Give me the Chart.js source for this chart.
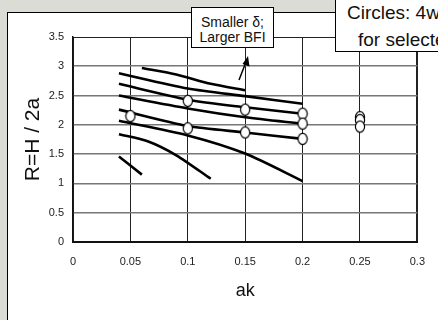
<!DOCTYPE html>
<html>
<head>
<meta charset="utf-8">
<script src="https://cdn.jsdelivr.net/npm/chart.js@4"></script>
<style>
  body { margin: 0; width: 438px; height: 320px; overflow: hidden; background: #dcdcd6; position: relative; font-family: "Liberation Sans", Arial, sans-serif; }
  #panel { position: absolute; left: 7px; top: 12px; width: 440px; height: 320px; background: #fff; border: 1px solid #000; }
  #chart { position: absolute; left: 0; top: 0; }
  .note { position: absolute; background: #fff; border: 1px solid #000; color: #111; white-space: nowrap; overflow: hidden; }
  #noteDelta { left: 191px; top: 7px; width: 83px; height: 41px; font-size: 14px; line-height: 15px; text-align: center; padding-top: 7px; box-sizing: border-box; }
  #noteCircles { left: 335px; top: -2px; width: 130px; height: 54px; font-size: 19px; line-height: 27px; box-sizing: border-box; }
  #arrow { position: absolute; left: 0; top: 0; }
</style>
</head>
<body>
<div id="panel"></div>
<canvas id="chart" width="438" height="320"></canvas>
<div class="note" id="noteDelta">Smaller &delta;;<br>Larger BFI</div>
<div class="note" id="noteCircles"><div style="padding-left:11px">Circles: 4wave</div><div style="padding-left:22px">for selected</div></div>
<svg id="arrow" width="438" height="320">
  <line x1="239" y1="80" x2="246" y2="62" stroke="#000" stroke-width="1.5"/>
  <polygon points="248,56 242.5,64 249.5,66.5" fill="#000"/>
</svg>
<script>
// axis ticks
const xTicks = [0, 0.05, 0.1, 0.15, 0.2, 0.25, 0.3];
const yTicks = [0, 0.5, 1, 1.5, 2, 2.5, 3, 3.5];

// curves, top to bottom
const curveAx = [0.06, 0.09, 0.12, 0.15];
const curveAy = [2.97, 2.86, 2.70, 2.59];
const curveBx = [0.04, 0.1, 0.15, 0.2];
const curveBy = [2.88, 2.62, 2.49, 2.36];
const curveCx = [0.04, 0.1, 0.15, 0.2];
const curveCy = [2.70, 2.43, 2.30, 2.19];
const curveDx = [0.04, 0.1, 0.15, 0.2];
const curveDy = [2.50, 2.28, 2.13, 2.02];
const curveEx = [0.04, 0.1, 0.15, 0.2];
const curveEy = [2.26, 1.98, 1.87, 1.76];
const curveFx = [0.04, 0.1, 0.15, 0.2];
const curveFy = [2.07, 1.82, 1.51, 1.04];
const curveGx = [0.04, 0.065, 0.09, 0.12];
const curveGy = [1.84, 1.72, 1.48, 1.08];
const curveHx = [0.04, 0.06];
const curveHy = [1.46, 1.15];

// circles (4-wave results)
const circleX = [0.05, 0.1, 0.1, 0.15, 0.15, 0.2, 0.2, 0.2, 0.25, 0.25, 0.25];
const circleY = [2.15, 2.41, 1.94, 2.26, 1.87, 2.19, 2.02, 1.76, 2.13, 2.08, 1.97];

const curves = [
    [curveAx, curveAy], [curveBx, curveBy], [curveCx, curveCy], [curveDx, curveDy],
    [curveEx, curveEy], [curveFx, curveFy], [curveGx, curveGy], [curveHx, curveHy]
];

function pts(xs, ys) {
    return xs.map((x, i) => ({ x: x, y: ys[i] }));
}

// small ellipse used as point marker
const marker = document.createElement("canvas");
marker.width = 12;
marker.height = 14;
const mctx = marker.getContext("2d");
mctx.beginPath();
mctx.ellipse(6, 7, 4.6, 5.6, 0, 0, Math.PI * 2);
mctx.fillStyle = "#fff";
mctx.fill();
mctx.lineWidth = 1.2;
mctx.strokeStyle = "#000";
mctx.stroke();

const datasets = [{
    label: "4wave",
    data: pts(circleX, circleY),
    showLine: false,
    pointStyle: marker,
    pointRadius: 6,
    order: 0
}];
curves.forEach(c => {
    datasets.push({
        data: pts(c[0], c[1]),
        showLine: true,
        borderColor: "#000",
        borderWidth: 2.6,
        pointRadius: 0,
        tension: 0.25,
        order: 1
    });
});

const tickFont = { family: "Liberation Sans", size: 11 };

new Chart(document.getElementById("chart"), {
    type: "scatter",
    data: { datasets: datasets },
    options: {
        responsive: false,
        animation: false,
        events: [],
        layout: { padding: { top: 37, right: 11, left: 0, bottom: 0 } },
        plugins: { legend: { display: false }, tooltip: { enabled: false } },
        scales: {
            x: {
                min: 0,
                max: 0.3,
                afterFit: s => { s.height = 78; },
                afterBuildTicks: s => { s.ticks = xTicks.map(v => ({ value: v })); },
                ticks: { font: tickFont, color: "#222", padding: 13, maxRotation: 0, callback: v => String(v) },
                grid: {
                    drawTicks: false,
                    color: "#222",
                    lineWidth: ctx => (ctx.index === xTicks.length - 1 ? 2 : 1)
                },
                border: { color: "#111", width: 2 },
                title: { display: true, text: "ak", font: { family: "Liberation Sans", size: 18 }, color: "#111", padding: { top: 0, bottom: 18 } }
            },
            y: {
                min: 0,
                max: 3.5,
                afterFit: s => { s.width = 73; },
                afterBuildTicks: s => { s.ticks = yTicks.map(v => ({ value: v })); },
                ticks: { font: tickFont, color: "#222", padding: 9, callback: v => String(v) },
                grid: {
                    drawTicks: false,
                    color: ctx => (ctx.index === yTicks.length - 1 ? "#222" : "#777"),
                    lineWidth: ctx => (ctx.index === yTicks.length - 1 ? 1 : 1.6)
                },
                border: { color: "#111", width: 1.5 },
                title: { display: true, text: "R=H / 2a", font: { family: "Liberation Sans", size: 21 }, color: "#111", padding: { top: 21, bottom: 0 } }
            }
        }
    }
});
</script>
</body>
</html>
